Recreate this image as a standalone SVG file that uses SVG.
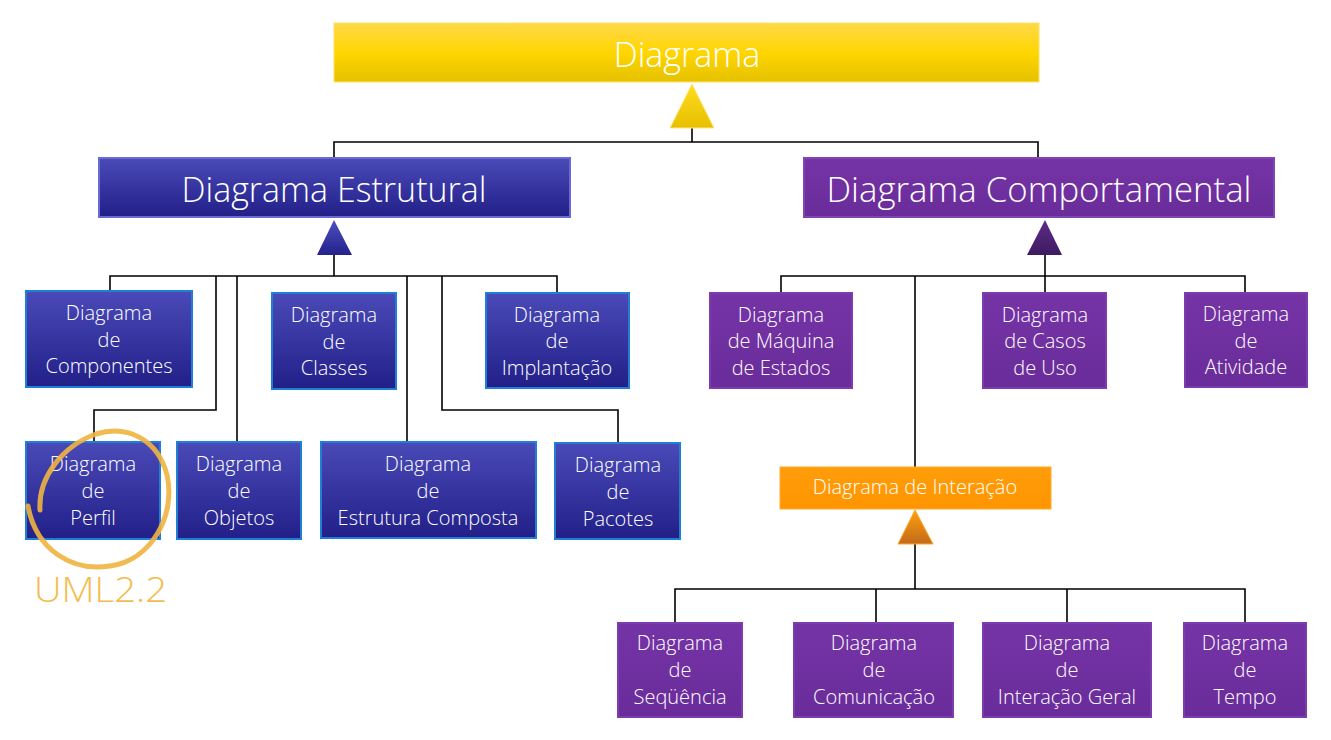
<svg xmlns="http://www.w3.org/2000/svg" width="1331" height="740" viewBox="0 0 1331 740">
<defs>
<linearGradient id="gY" x1="0" y1="0" x2="0" y2="1"><stop offset="0" stop-color="#ffd84a"/><stop offset="0.5" stop-color="#ffd600"/><stop offset="1" stop-color="#e5c100"/></linearGradient>
<linearGradient id="gB" x1="0" y1="0" x2="0" y2="1"><stop offset="0" stop-color="#4a4ab8"/><stop offset="1" stop-color="#221f88"/></linearGradient>
<linearGradient id="gP" x1="0" y1="0" x2="0" y2="1"><stop offset="0" stop-color="#7534a6"/><stop offset="1" stop-color="#6a2c9a"/></linearGradient>
<linearGradient id="gO" x1="0" y1="0" x2="0" y2="1"><stop offset="0" stop-color="#ff9d0a"/><stop offset="1" stop-color="#ff9500"/></linearGradient>
<linearGradient id="tY" x1="0" y1="0" x2="0" y2="1"><stop offset="0" stop-color="#ffdc20"/><stop offset="1" stop-color="#e6c000"/></linearGradient>
<linearGradient id="tB" x1="0" y1="0" x2="0" y2="1"><stop offset="0" stop-color="#4e4ec0"/><stop offset="1" stop-color="#24228c"/></linearGradient>
<linearGradient id="tP" x1="0" y1="0" x2="0" y2="1"><stop offset="0" stop-color="#5e2c88"/><stop offset="1" stop-color="#3e1a60"/></linearGradient>
<linearGradient id="tO" x1="0" y1="0" x2="0" y2="1"><stop offset="0" stop-color="#ffa010"/><stop offset="1" stop-color="#c26a1a"/></linearGradient>
</defs>
<style>
.t{font-family:"Open Sans","Noto Sans","Liberation Sans",sans-serif;font-weight:300;fill:#ffffff;text-anchor:middle}
.s{font-size:20px}
.big{font-size:34px}
.blue{fill:url(#gB);stroke:#1f7fd4;stroke-width:2}
.purple{fill:url(#gP);stroke:#7c3cae;stroke-width:2}
.ln{fill:none;stroke:#000;stroke-width:1.6}
</style>
<g id="connectors">
<path class="ln" d="M692 128 V142 M334 157 V142 H1038 V157"/>
<path class="ln" d="M334 255 V276 M110 291 V276 H557 V292 M216 276 V410 H94 V442 M237 276 V442 M407 276 V442 M442 276 V410 H618 V443"/>
<path class="ln" d="M1045 255 V293 M781 293 V276 H1245 V293 M915 276 V467"/>
<path class="ln" d="M915 544 V589 M675 623 V589 H1245 V623 M876 589 V623 M1067 589 V623"/>
</g>
<g id="n-diagrama">
<rect x="334" y="23" width="705" height="59" fill="url(#gY)" stroke="#ffe066" stroke-width="1"/>
<text class="t" x="687" y="67" font-size="34">Diagrama</text>
<polygon points="692,84 670,128 714,128" fill="url(#tY)" stroke="#ffe680" stroke-width="1"/>
</g>
<g id="n-estrutural">
<rect x="99" y="158" width="471" height="59" fill="url(#gB)" stroke="#6a6ad4" stroke-width="2"/>
<text class="t big" x="334" y="202" textLength="305" lengthAdjust="spacingAndGlyphs">Diagrama Estrutural</text>
<polygon points="334,220 317,255 352,255" fill="url(#tB)"/>
</g>
<g id="n-comportamental">
<rect x="804" y="158" width="470" height="59" fill="url(#gP)" stroke="#8244b4" stroke-width="2"/>
<text class="t big" x="1039" y="202" textLength="425" lengthAdjust="spacingAndGlyphs">Diagrama Comportamental</text>
<polygon points="1045,220 1027,255 1062,255" fill="url(#tP)"/>
</g>
<g id="n-componentes">
<rect class="blue" x="26" y="291" width="166" height="96"/>
<text class="t s" x="109" y="320">Diagrama</text><text class="t s" x="109" y="347">de</text><text class="t s" x="109" y="373">Componentes</text>
</g>
<g id="n-classes">
<rect class="blue" x="272" y="293" width="124" height="96"/>
<text class="t s" x="334" y="322">Diagrama</text><text class="t s" x="334" y="349">de</text><text class="t s" x="334" y="375">Classes</text>
</g>
<g id="n-implantacao">
<rect class="blue" x="486" y="293" width="143" height="95"/>
<text class="t s" x="557" y="322">Diagrama</text><text class="t s" x="557" y="348">de</text><text class="t s" x="557" y="375">Implantação</text>
</g>
<g id="n-perfil">
<rect class="blue" x="26" y="442" width="134" height="97"/>
<text class="t s" x="93" y="471">Diagrama</text><text class="t s" x="93" y="498">de</text><text class="t s" x="93" y="525">Perfil</text>
</g>
<g id="n-objetos">
<rect class="blue" x="177" y="442" width="124" height="97"/>
<text class="t s" x="239" y="471">Diagrama</text><text class="t s" x="239" y="498">de</text><text class="t s" x="239" y="525">Objetos</text>
</g>
<g id="n-estrutura">
<rect class="blue" x="321" y="442" width="215" height="96"/>
<text class="t s" x="428" y="471">Diagrama</text><text class="t s" x="428" y="498">de</text><text class="t s" x="428" y="525">Estrutura Composta</text>
</g>
<g id="n-pacotes">
<rect class="blue" x="555" y="443" width="125" height="96"/>
<text class="t s" x="618" y="472">Diagrama</text><text class="t s" x="618" y="499">de</text><text class="t s" x="618" y="526">Pacotes</text>
</g>
<g id="n-maquina">
<rect class="purple" x="710" y="293" width="142" height="95"/>
<text class="t s" x="781" y="322">Diagrama</text><text class="t s" x="781" y="348">de Máquina</text><text class="t s" x="781" y="375">de Estados</text>
</g>
<g id="n-casos">
<rect class="purple" x="983" y="293" width="123" height="95"/>
<text class="t s" x="1045" y="322">Diagrama</text><text class="t s" x="1045" y="348">de Casos</text><text class="t s" x="1045" y="375">de Uso</text>
</g>
<g id="n-atividade">
<rect class="purple" x="1185" y="293" width="122" height="94"/>
<text class="t s" x="1246" y="321">Diagrama</text><text class="t s" x="1246" y="348">de</text><text class="t s" x="1246" y="374">Atividade</text>
</g>
<g id="n-interacao">
<rect x="780" y="467" width="271" height="42" fill="url(#gO)" stroke="#ffaa30" stroke-width="1"/>
<text class="t s" x="915" y="494">Diagrama de Interação</text>
<polygon points="915,510 898,544 933,544" fill="url(#tO)" stroke="#ffa820" stroke-width="1"/>
</g>
<g id="n-sequencia">
<rect class="purple" x="618" y="623" width="124" height="94"/>
<text class="t s" x="680" y="650">Diagrama</text><text class="t s" x="680" y="677">de</text><text class="t s" x="680" y="704">Seqüência</text>
</g>
<g id="n-comunicacao">
<rect class="purple" x="794" y="623" width="159" height="94"/>
<text class="t s" x="874" y="650">Diagrama</text><text class="t s" x="874" y="677">de</text><text class="t s" x="874" y="704">Comunicação</text>
</g>
<g id="n-interacaogeral">
<rect class="purple" x="983" y="623" width="168" height="94"/>
<text class="t s" x="1067" y="650">Diagrama</text><text class="t s" x="1067" y="677">de</text><text class="t s" x="1067" y="704">Interação Geral</text>
</g>
<g id="n-tempo">
<rect class="purple" x="1184" y="623" width="122" height="94"/>
<text class="t s" x="1245" y="650">Diagrama</text><text class="t s" x="1245" y="677">de</text><text class="t s" x="1245" y="704">Tempo</text>
</g>
<g id="annotation">
<path d="M40 510 C38 478 62 446 96 434 C128 424 158 440 167 475 C176 515 152 560 110 566 C72 572 36 550 28 506" fill="none" stroke="#f0b440" stroke-opacity="0.9" stroke-width="5" stroke-linecap="round"/>
<text x="34" y="602" font-family="Open Sans, Noto Sans, sans-serif" font-weight="300" font-size="34" fill="#f2bc50" textLength="133" lengthAdjust="spacingAndGlyphs">UML2.2</text>
</g>
</svg>
